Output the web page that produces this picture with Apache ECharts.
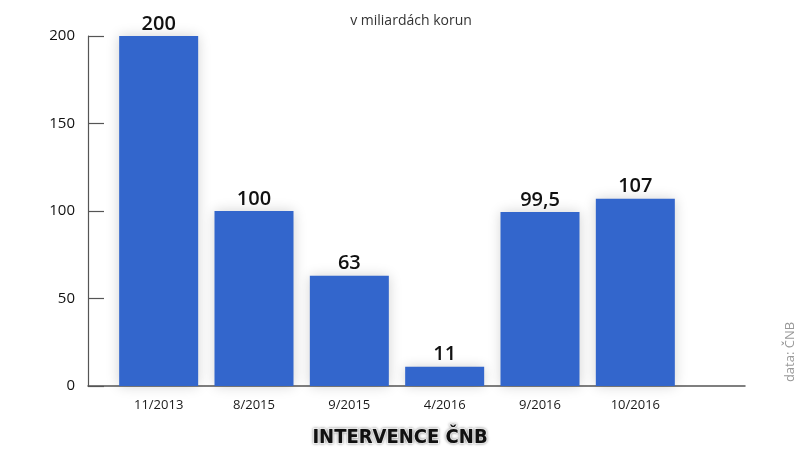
<!DOCTYPE html>
<html>
<head>
<meta charset="utf-8">
<script src="https://cdn.jsdelivr.net/npm/echarts@6/dist/echarts.min.js"></script>
<style>
html, body { margin: 0; padding: 0; background: #fff; }
#chart { width: 798px; height: 450px; }
</style>
</head>
<body>
<div id="chart"></div>
<script>
// intervence CNB, v miliardach korun
var obdobi = ['11/2013', '8/2015', '9/2015', '4/2016', '9/2016', '10/2016'];
var objem = [200, 100, 63, 11, 99.5, 107];
var osaY = [0, 50, 100, 150, 200];

var chart = echarts.init(document.getElementById('chart'));

var option = {
    backgroundColor: '#fff',
    animation: false,
    textStyle: { fontFamily: '"Open Sans", "Noto Sans", sans-serif' },
    title: [
        {
            text: 'v miliardách korun',
            left: 406, top: 9,
            textAlign: 'center',
            textStyle: { fontSize: 14, fontWeight: 'normal', color: '#333' }
        },
        {
            text: 'INTERVENCE ČNB',
            left: 395, top: 423,
            textAlign: 'center',
            textStyle: {
                fontFamily: '"DejaVu Sans Condensed", "DejaVu Sans", sans-serif',
                fontSize: 20, fontWeight: 'bold', color: '#111',
                textBorderColor: '#fff', textBorderWidth: 2,
                textShadowColor: 'rgba(0,0,0,0.35)', textShadowBlur: 3
            }
        }
    ],
    graphic: [
        {
            type: 'text',
            x: 797, y: 352,
            rotation: Math.PI / 2,
            style: {
                text: 'data: ČNB',
                fill: '#999',
                fontSize: 13,
                fontFamily: '"Open Sans", sans-serif',
                align: 'center',
                verticalAlign: 'bottom'
            }
        }
    ],
    grid: [
        { left: 111, right: 115, top: 36, bottom: 64 },
        { left: 88, right: 53, top: 36, bottom: 64 }
    ],
    xAxis: [
        {
            type: 'category',
            gridIndex: 0,
            data: obdobi,
            axisLine: { show: false },
            axisTick: { show: false },
            axisLabel: { color: '#1a1a1a', fontSize: 13, margin: 13 }
        },
        {
            type: 'value',
            gridIndex: 1,
            min: 0, max: 1,
            axisLine: { show: true, lineStyle: { color: '#555', width: 1.5 } },
            axisTick: { show: false },
            axisLabel: { show: false },
            splitLine: { show: false }
        }
    ],
    yAxis: [
        {
            type: 'value',
            gridIndex: 0,
            min: osaY[0], max: osaY[osaY.length - 1], interval: 50,
            offset: 23,
            axisLine: { show: true, lineStyle: { color: '#555', width: 1.2 } },
            axisTick: { show: true, inside: true, length: 16, lineStyle: { color: '#555', width: 1.2 } },
            axisLabel: { color: '#111', fontSize: 15, margin: 13 },
            splitLine: { show: false }
        },
        {
            type: 'value',
            gridIndex: 1,
            show: false
        }
    ],
    series: [
        {
            type: 'bar',
            xAxisIndex: 0,
            yAxisIndex: 0,
            data: objem,
            barWidth: 79,
            itemStyle: {
                color: '#3366cc',
                shadowBlur: 12,
                shadowColor: 'rgba(0,0,0,0.18)'
            },
            label: {
                show: true,
                position: 'top',
                distance: 2,
                color: '#111',
                fontSize: 20,
                fontWeight: 600,
                formatter: function (p) {
                    return String(p.value).replace('.', ',');
                }
            }
        }
    ]
};

chart.setOption(option);
</script>
</body>
</html>
